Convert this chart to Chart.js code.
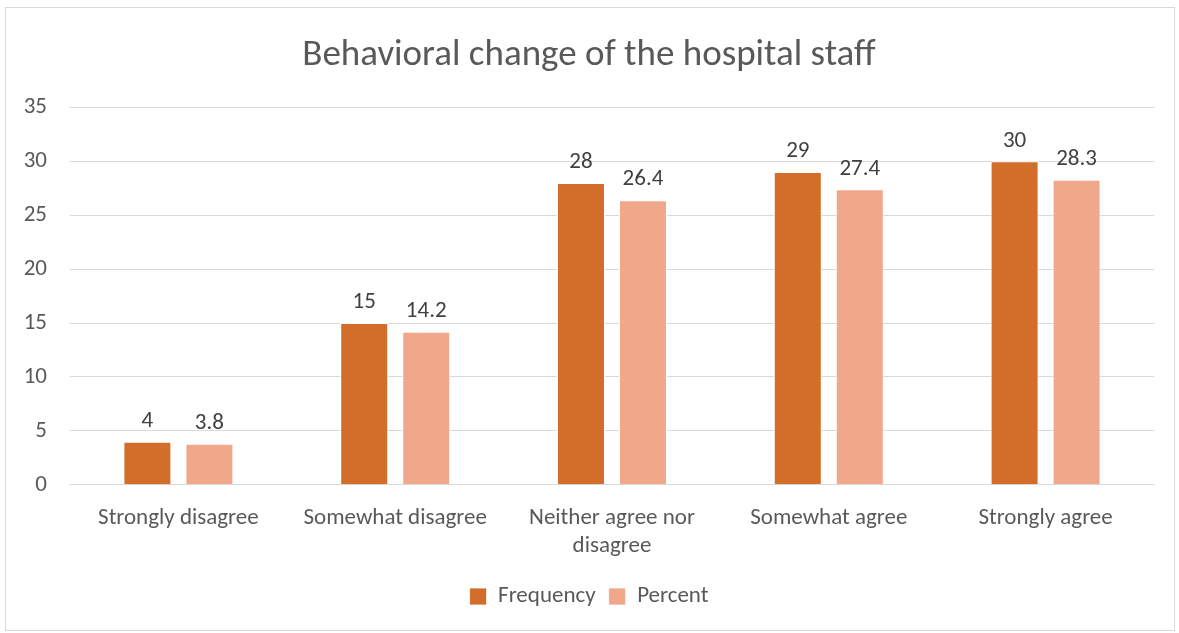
<!DOCTYPE html>
<html>
    <head>
        <script src="https://cdn.jsdelivr.net/npm/chart.js@4"></script>
        <style>
            body { margin: 0; background: #fff; }
            #box {
                position: absolute; left: 5px; top: 7px;
                width: 1168px; height: 622px;
                border: 1px solid #d9d9d9;
            }
        </style>
    </head>
    <body>
        <div id="box">
            <canvas id="myChart"></canvas>
        </div>
    </body>

    <script>
        // 데이터
        const categories = ['Strongly disagree', 'Somewhat disagree', ['Neither agree nor', 'disagree'], 'Somewhat agree', 'Strongly agree']
        const frequency = [4, 15, 28, 29, 30]
        const percent = [3.8, 14.2, 26.4, 27.4, 28.3]
        const yTicks = [0, 5, 10, 15, 20, 25, 30, 35]

        const font = "Calibri, Carlito, 'Open Sans', 'Noto Sans', sans-serif"

        // 막대 위에 값 표시
        const valueLabels = {
            id: 'valueLabels',
            afterDatasetsDraw(chart) {
                const ctx = chart.ctx
                ctx.save()
                ctx.font = '23px ' + font
                ctx.fillStyle = '#404040'
                ctx.textAlign = 'center'
                ctx.textBaseline = 'bottom'
                chart.data.datasets.forEach((ds, i) => {
                    chart.getDatasetMeta(i).data.forEach((bar, j) => {
                        ctx.fillText(ds.data[j], bar.x, bar.y - 9)
                    })
                })
                ctx.restore()
            }
        }

        const data = {
            labels: categories,
            datasets: [{
                label: 'Frequency',
                data: frequency,
                backgroundColor: '#d26e2a',
                borderColor: '#ffffff',
                borderWidth: { top: 1, left: 1, right: 1, bottom: 0 },
                categoryPercentage: 0.572,
                barPercentage: 0.774
            }, {
                label: 'Percent',
                data: percent,
                backgroundColor: '#f1a88a',
                borderColor: '#ffffff',
                borderWidth: { top: 1, left: 1, right: 1, bottom: 0 },
                categoryPercentage: 0.572,
                barPercentage: 0.774
            }]
        }

        const config = {
            type: 'bar',
            data: data,
            plugins: [valueLabels],
            options: {
                responsive: true,
                maintainAspectRatio: false,
                animation: false,
                layout: { padding: { left: 18, right: 20, top: 0, bottom: 12 } },
                plugins: {
                    title: {
                        display: true,
                        text: 'Behavioral change of the hospital staff',
                        color: '#595959',
                        font: { family: font, size: 37, weight: 'normal' },
                        padding: { top: 26, bottom: 29 }
                    },
                    legend: {
                        position: 'bottom',
                        labels: {
                            color: '#595959',
                            font: { family: font, size: 23 },
                            boxWidth: 17,
                            boxHeight: 17,
                            padding: 13
                        }
                    },
                    tooltip: { enabled: false }
                },
                scales: {
                    x: {
                        grid: { display: false },
                        border: { display: false },
                        ticks: {
                            color: '#595959',
                            font: { family: font, size: 23, lineHeight: 1.2 },
                            padding: 12,
                            maxRotation: 0
                        }
                    },
                    y: {
                        min: 0,
                        max: 35,
                        afterBuildTicks: (axis) => { axis.ticks = yTicks.map(v => ({ value: v })) },
                        // y축 폭 고정 (그리드가 x=70 에서 시작하도록)
                        afterFit: (scale) => { scale.width = 46 },
                        grid: { color: '#d9d9d9', lineWidth: 1, drawTicks: false },
                        border: { display: false },
                        ticks: {
                            color: '#595959',
                            font: { family: font, size: 23 },
                            padding: 23
                        }
                    }
                }
            }
        }

        const myChart = new Chart(document.getElementById('myChart'), config)
    </script>
</html>
